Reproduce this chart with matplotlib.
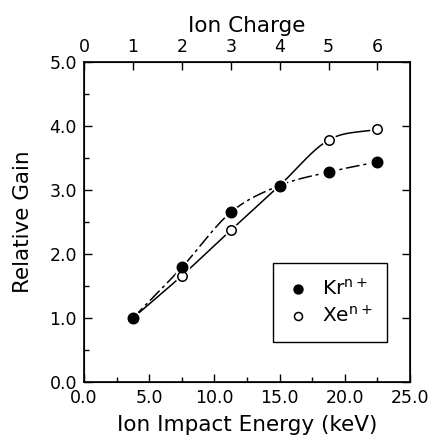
import numpy as np
import matplotlib
matplotlib.use("Agg")
import matplotlib.pyplot as plt
from matplotlib.ticker import MultipleLocator, FixedLocator

# Ion charge states and corresponding impact energies (keV)
charge = [1, 2, 3, 4, 5, 6]
energy_per_charge = 3.75
kr_gain = [1.00, 1.79, 2.65, 3.07, 3.28, 3.44]
xe_charge = [2, 3, 4, 5, 6]
xe_gain = [1.66, 2.37, 3.07, 3.78, 3.95]

x_ticks = [0.0, 5.0, 10.0, 15.0, 20.0, 25.0]
y_ticks = [0.0, 1.0, 2.0, 3.0, 4.0, 5.0]
top_ticks = [0, 1, 2, 3, 4, 5, 6]


def smooth_curve(x, y, n=60):
    """Catmull-Rom style cubic Hermite curve through the points."""
    x = np.asarray(x, float)
    y = np.asarray(y, float)
    k = len(x)
    d = np.zeros(k)
    d[1:-1] = (y[2:] - y[:-2]) / (x[2:] - x[:-2])
    d[0] = (y[1] - y[0]) / (x[1] - x[0])
    d[-1] = (y[-1] - y[-2]) / (x[-1] - x[-2])
    xs_all, ys_all = [], []
    for i in range(k - 1):
        h = x[i + 1] - x[i]
        t = np.linspace(0, 1, n)
        h00 = 2 * t ** 3 - 3 * t ** 2 + 1
        h10 = t ** 3 - 2 * t ** 2 + t
        h01 = -2 * t ** 3 + 3 * t ** 2
        h11 = t ** 3 - t ** 2
        xs_all.append(x[i] + t * h)
        ys_all.append(h00 * y[i] + h10 * h * d[i] + h01 * y[i + 1] + h11 * h * d[i + 1])
    return np.concatenate(xs_all), np.concatenate(ys_all)


plt.rcParams["font.family"] = ["DejaVu Sans"]

fig = plt.figure(figsize=(4.28, 4.38), dpi=100)
ax = fig.add_axes([84 / 428, 1 - 382 / 438, 326 / 428, 320 / 438])

kr_x = [c * energy_per_charge for c in charge]
xe_x = [c * energy_per_charge for c in xe_charge]

# Xe curve starts from the shared point at charge 1
xe_line_x = [kr_x[0]] + xe_x
xe_line_y = [kr_gain[0]] + xe_gain

sx, sy = smooth_curve(kr_x, kr_gain)
ax.plot(sx, sy, color="black", lw=1.1, dashes=(9, 2.5, 2, 2.5), zorder=2)
sx, sy = smooth_curve(xe_line_x, xe_line_y)
ax.plot(sx, sy, color="black", lw=1.1, zorder=2)

# white halos leave small gaps where curves meet the symbols
ax.plot(kr_x, kr_gain, ls="none", marker="o", ms=11, mfc="white", mec="none", zorder=3)
ax.plot(xe_x, xe_gain, ls="none", marker="o", ms=10.5, mfc="white", mec="none", zorder=3)

ax.plot(xe_x, xe_gain, ls="none", marker="o", ms=6.8, mfc="white", mec="black",
        mew=1.1, zorder=4, label=r"Xe$^{\mathrm{n+}}$")
ax.plot(kr_x, kr_gain, ls="none", marker="o", ms=7.6, mfc="black", mec="black",
        zorder=5, label=r"Kr$^{\mathrm{n+}}$")

ax.set_xlim(0, 25)
ax.set_ylim(0, 5)
ax.xaxis.set_major_locator(FixedLocator(x_ticks))
ax.xaxis.set_minor_locator(MultipleLocator(2.5))
ax.yaxis.set_major_locator(FixedLocator(y_ticks))
ax.yaxis.set_minor_locator(MultipleLocator(0.5))
ax.set_xticklabels([f"{v:.1f}" for v in x_ticks])
ax.set_yticklabels([f"{v:.1f}" for v in y_ticks])

ax.tick_params(which="both", direction="in", top=False, right=True, labelsize=12.5,
               width=1.0)
ax.tick_params(which="major", length=6)
ax.tick_params(axis="x", which="major", pad=5)
ax.tick_params(axis="y", which="major", pad=5)
ax.tick_params(which="minor", length=3.5)
ax.tick_params(axis="y", which="minor", right=False)
for sp in ax.spines.values():
    sp.set_linewidth(1.2)

ax.set_xlabel("Ion Impact Energy (keV)", fontsize=15.5, labelpad=6)
ax.set_ylabel("Relative Gain", fontsize=15.5, labelpad=12)

top = ax.twiny()
top.set_xlim(0, 25 / energy_per_charge)
top.xaxis.set_major_locator(FixedLocator(top_ticks))
top.set_xticklabels([str(t) for t in top_ticks])
top.tick_params(direction="in", length=6, width=1.0, labelsize=12.5, pad=4)
top.set_xlabel("Ion Charge", fontsize=15.5, labelpad=5)

handles, labels = ax.get_legend_handles_labels()
order = [1, 0]
leg = ax.legend([handles[i] for i in order], [labels[i] for i in order],
                loc="lower left", bbox_to_anchor=(189 / 326, 40 / 320, 114 / 326, 77 / 320),
                mode="expand", borderaxespad=0, fancybox=False, edgecolor="black",
                framealpha=1, fontsize=14.5, handlelength=1.0, handletextpad=0.7,
                borderpad=0.75, labelspacing=0.3, markerscale=0.85)
leg.get_frame().set_linewidth(1.0)

fig.savefig("out.png", dpi=100)
